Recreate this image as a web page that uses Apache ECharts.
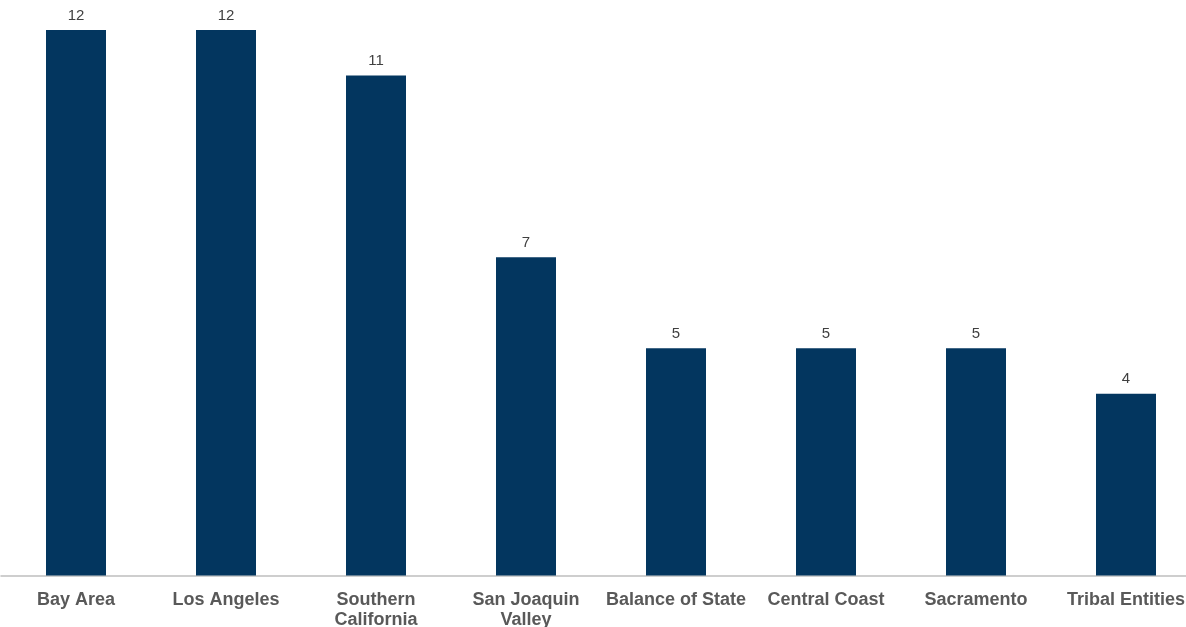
<!DOCTYPE html>
<html>
<head>
<meta charset="utf-8">
<script src="https://cdn.jsdelivr.net/npm/echarts@6/dist/echarts.min.js"></script>
<style>
html,body{margin:0;padding:0;background:#fff;}
#chart{width:1186px;height:627px;}
</style>
</head>
<body>
<div id="chart"></div>
<script>
const categories = ["Bay Area", "Los Angeles", "Southern\nCalifornia", "San Joaquin\nValley", "Balance of State", "Central Coast", "Sacramento", "Tribal Entities"];
const values = [12, 12, 11, 7, 5, 5, 5, 4];

const chart = echarts.init(document.getElementById('chart'), null, {renderer: 'canvas'});
chart.setOption({
  animation: false,
  backgroundColor: '#ffffff',
  grid: {left: 1, width: 1200, top: 30, bottom: 51.5, containLabel: false, outerBoundsMode: 'none'},
  xAxis: {
    type: 'category',
    data: categories,
    axisLine: {show: true, lineStyle: {color: '#BFBFBF', width: 1.5}},
    axisTick: {show: false},
    axisLabel: {
      interval: 0,
      fontFamily: 'Liberation Sans, Arial, sans-serif',
      fontWeight: 'bold',
      fontSize: 18,
      color: '#595959',
      margin: 15,
      lineHeight: 20
    }
  },
  yAxis: {
    type: 'value',
    min: 0,
    max: 12,
    show: false,
    splitLine: {show: false}
  },
  series: [{
    type: 'bar',
    data: values,
    barWidth: '40%',
    itemStyle: {color: '#03365F'},
    label: {
      show: true,
      position: 'top',
      distance: 7,
      fontFamily: 'Liberation Sans, Arial, sans-serif',
      fontSize: 15,
      color: '#404040'
    }
  }]
});
</script>
</body>
</html>
